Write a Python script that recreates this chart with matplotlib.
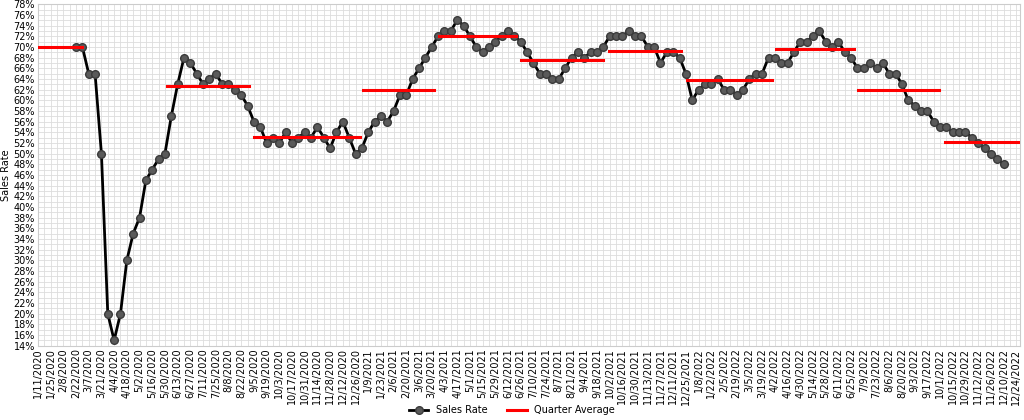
import matplotlib
matplotlib.use("Agg")
import matplotlib.pyplot as plt
import numpy as np
import pandas as pd

start_date = "2020-02-22"
sales_rate = [70,70,65,65,50,20,15,20,30,35,38,45,47,49,50,57,63,68,67,65,63,64,65,63,63,62,61,59,56,55,
              52,53,52,54,52,53,54,53,55,53,51,54,56,53,50,51,54,
              56,57,56,58,61,61,64,66,68,70,72,73,73,75,74,72,70,69,70,71,72,73,72,71,69,67,65,65,64,64,66,68,69,68,69,69,70,72,72,72,73,72,72,70,70,67,69,69,68,65,60,
              62,63,63,64,62,62,61,62,64,65,65,68,68,67,67,69,71,71,72,73,71,70,71,69,68,66,66,67,66,67,65,65,63,60,59,58,58,56,55,55,54,54,54,53,52,51,50,49,48]
q_start = ["2020-01-11","2020-06-01","2020-09-05","2021-01-03","2021-03-28","2021-06-26","2021-10-01","2021-12-26","2022-04-03","2022-07-03","2022-10-06"]
q_end   = ["2020-02-29","2020-08-31","2020-12-31","2021-03-22","2021-06-21","2021-09-25","2021-12-20","2022-03-30","2022-06-28","2022-09-30","2022-12-31"]
q_avg   = [70,62.6,53.1,62,72,67.6,69.2,63.8,69.6,62,52.1]

dates = pd.date_range(start_date, periods=len(sales_rate), freq="7D")
fig = plt.figure(figsize=(10.24,4.2), dpi=100)
ax = fig.add_axes([0.037,0.177,0.959,0.813])
ax.plot(dates, sales_rate, color="black", lw=2, marker="o", ms=5.5, mfc="#5a5a5a", mec="#3a3a3a", label="Sales Rate", zorder=3)
for i,(s,e,v) in enumerate(zip(q_start,q_end,q_avg)):
    ax.plot([pd.Timestamp(s),pd.Timestamp(e)],[v,v], color="red", lw=2.2, zorder=4, label="Quarter Average" if i==0 else None)
x0, x1 = pd.Timestamp("2020-01-11"), pd.Timestamp("2022-12-28")
ax.set_xlim(x0, x1)
ax.set_ylim(14,78)
ticks = pd.date_range("2020-01-11","2022-12-24",freq="14D")
ax.set_xticks(ticks)
ax.set_xticklabels([f"{d.month}/{d.day}/{d.year}" for d in ticks], rotation=90, fontsize=7)
ax.set_xticks(pd.date_range("2020-01-11","2022-12-24",freq="7D"), minor=True)
ax.set_yticks(np.arange(14,79,2))
ax.set_yticklabels([f"{v}%" for v in range(14,79,2)], fontsize=7)
ax.set_yticks(np.arange(14,79,1), minor=True)
ax.grid(True, which="both", color="#dddddd", lw=0.6)
ax.tick_params(length=0, which="both", pad=2)
for s in ax.spines.values(): s.set_color("#cccccc")
ax.set_ylabel("Sales Rate", fontsize=7, labelpad=2)
fig.legend(loc="lower center", bbox_to_anchor=(0.5,-0.01), ncol=2, frameon=False, fontsize=7)
fig.savefig("out.png")
